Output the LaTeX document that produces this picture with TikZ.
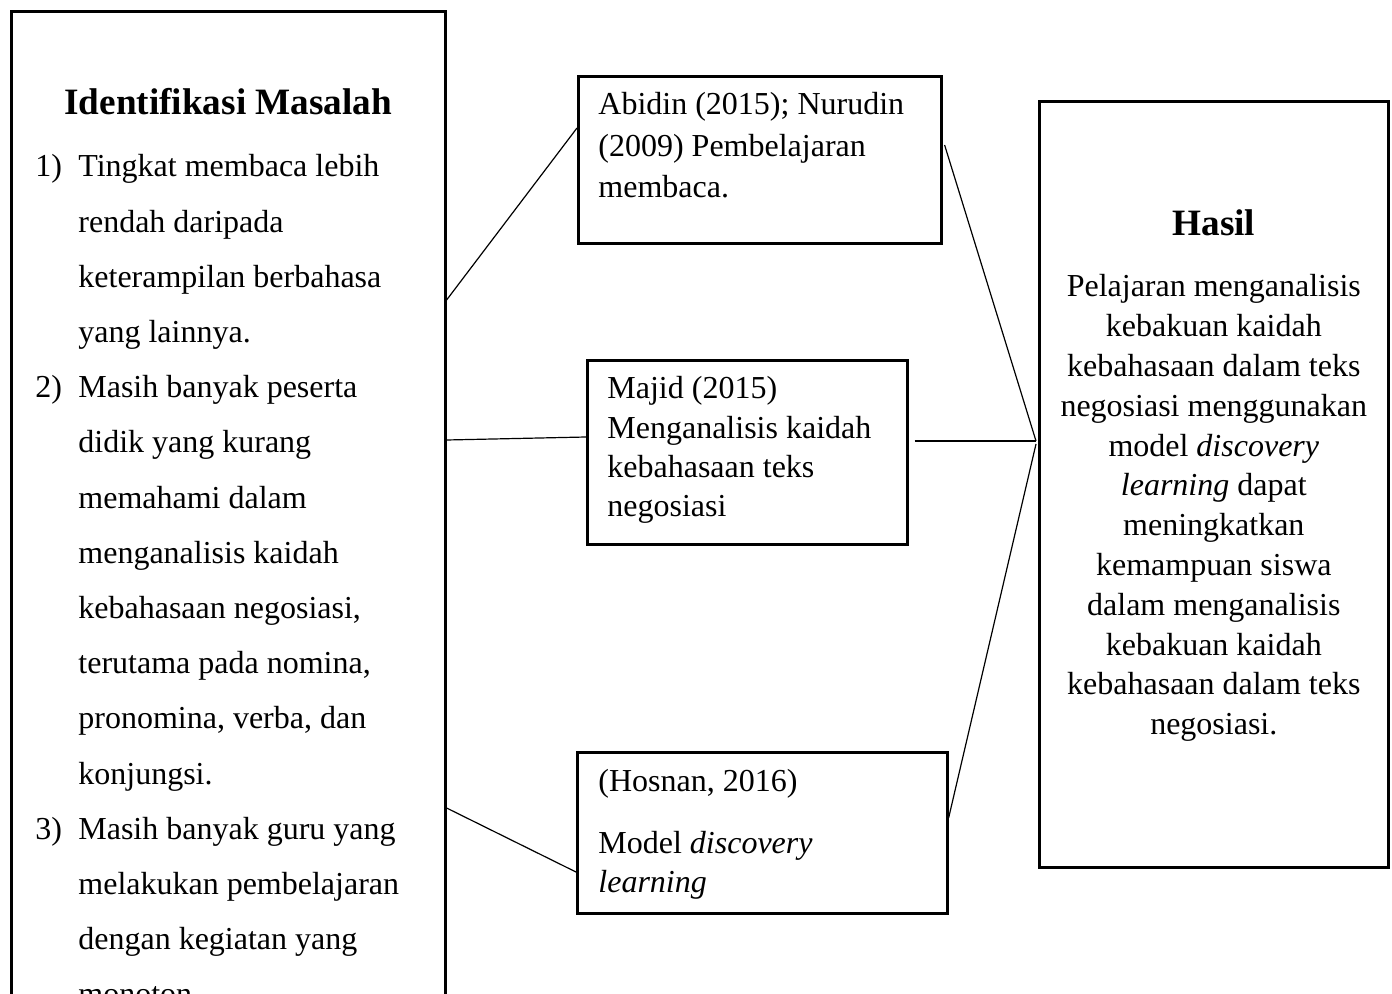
\documentclass[tikz,border=0pt]{standalone}
\usepackage{fontspec}
\setmainfont{Liberation Serif}
\usepackage{tikz}
\usetikzlibrary{calc}

\begin{document}
\begin{tikzpicture}[x=0.5pt,y=-0.5pt,
  kotak/.style={draw,line width=1.3pt,inner sep=0pt,anchor=north west},
  judul/.style={font=\fontsize{18.6}{22}\selectfont\bfseries,inner sep=0pt,anchor=base},
  isi/.style={inner sep=0pt,anchor=base west},
  garis/.style={line width=0.6pt}]
\useasboundingbox (0,0) rectangle (1392,994);
\clip (0,0) rectangle (1392,994);

\node[kotak,minimum width=217pt,minimum height=500pt] (masalah) at (10,10) {};
\node[kotak,minimum width=181.5pt,minimum height=83.5pt] (abidin) at (577,75) {};
\node[kotak,minimum width=160pt,minimum height=92pt] (majid) at (586,359) {};
\node[kotak,minimum width=185pt,minimum height=80.5pt] (hosnan) at (576,751) {};
\node[kotak,minimum width=174.5pt,minimum height=383pt] (hasil) at (1038,100) {};

\node[judul] (judulmasalah) at ($(masalah.north)+(0,105)$) {Identifikasi Masalah};
\node[isi,font=\fontsize{16}{27.6}\selectfont] (daftar) at ($(masalah.north west)+(25,167)$) {%
\begin{tabular}[t]{@{}p{21.5pt}@{}l@{}}
1) & Tingkat membaca lebih\\
   & rendah daripada\\
   & keterampilan berbahasa\\
   & yang lainnya.\\
2) & Masih banyak peserta\\
   & didik yang kurang\\
   & memahami dalam\\
   & menganalisis kaidah\\
   & kebahasaan negosiasi,\\
   & terutama pada nomina,\\
   & pronomina, verba, dan\\
   & konjungsi.\\
3) & Masih banyak guru yang\\
   & melakukan pembelajaran\\
   & dengan kegiatan yang\\
   & monoton.
\end{tabular}};

\node[isi,font=\fontsize{16}{20.75}\selectfont] (teksabidin) at ($(abidin.north west)+(21,40)$) {%
\begin{tabular}[t]{@{}l@{}}
Abidin (2015); Nurudin\\
(2009) Pembelajaran\\
membaca.
\end{tabular}};

\node[isi,font=\fontsize{16}{19.65}\selectfont] (teksmajid) at ($(majid.north west)+(21,40)$) {%
\begin{tabular}[t]{@{}l@{}}
Majid (2015)\\
Menganalisis kaidah\\
kebahasaan teks\\
negosiasi
\end{tabular}};

\node[isi,font=\fontsize{16}{19.5}\selectfont] (tekshosnan) at ($(hosnan.north west)+(22,40)$) {%
\begin{tabular}[t]{@{}l@{}}
(Hosnan, 2016)\\[11.5pt]
Model \textit{discovery}\\
\textit{learning}
\end{tabular}};

\node[judul] (judulhasil) at ($(hasil.north)+(0,136)$) {Hasil};
\node[inner sep=0pt,anchor=base,font=\fontsize{16}{19.9}\selectfont] (tekshasil) at ($(hasil.north)+(0,197)$) {%
\begin{tabular}[t]{@{}c@{}}
Pelajaran menganalisis\\
kebakuan kaidah\\
kebahasaan dalam teks\\
negosiasi menggunakan\\
model \textit{discovery}\\
\textit{learning} dapat\\
meningkatkan\\
kemampuan siswa\\
dalam menganalisis\\
kebakuan kaidah\\
kebahasaan dalam teks\\
negosiasi.
\end{tabular}};

\coordinate (temu) at ($(hasil.north west)+(-2,341)$);
\draw[garis] ($(masalah.north east)+(0,290)$) -- ($(abidin.north west)+(0,53)$);
\draw[garis] ($(masalah.north east)+(0,430)$) -- ($(majid.north west)+(0,78)$);
\draw[garis] ($(masalah.north east)+(0,798)$) -- ($(hosnan.north west)+(0,121)$);
\draw[garis] ($(abidin.north east)+(2,70)$) -- (temu);
\draw[garis] ($(majid.north east)+(6,82)$) -- (temu);
\draw[garis] ($(hosnan.north east)+(0,67)$) -- ($(temu)+(0,3)$);
\end{tikzpicture}
\end{document}
